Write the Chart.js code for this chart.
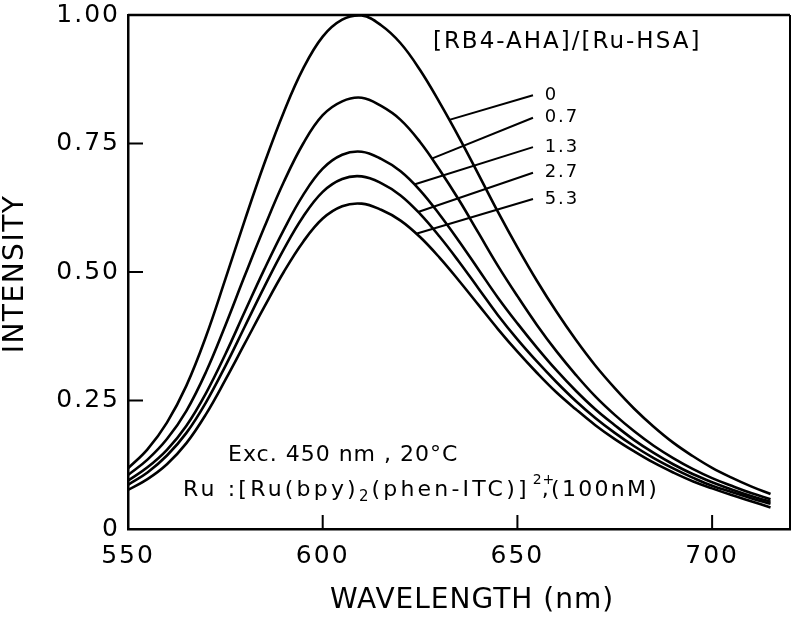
<!DOCTYPE html>
<html>
<head>
<meta charset="utf-8">
<script src="https://cdn.jsdelivr.net/npm/chart.js@4.4.0/dist/chart.umd.min.js"></script>
<style>
  html, body { margin: 0; padding: 0; background: #fff; }
  #wrap { width: 800px; height: 621px; }
</style>
</head>
<body>
<div id="wrap"><canvas id="chart" width="800" height="621"></canvas></div>
<script>
// ===== 数据 =====
const wavelengths = [550, 555, 560, 565, 570, 575, 580, 585, 590, 595, 600, 605, 610, 615,
    620, 625, 630, 635, 640, 645, 650, 655, 660, 665, 670, 675, 680, 685, 690, 695, 700, 705, 710, 715];

const intensity0 = [0.118, 0.155, 0.207, 0.279, 0.374, 0.486, 0.601, 0.711, 0.811, 0.896, 0.958, 0.991, 0.999, 0.980,
    0.945, 0.893, 0.830, 0.762, 0.690, 0.617, 0.548, 0.483, 0.423, 0.368, 0.318, 0.274, 0.234, 0.199, 0.168, 0.142, 0.119, 0.100, 0.083, 0.068];
const intensity07 = [0.105, 0.135, 0.175, 0.230, 0.305, 0.396, 0.493, 0.587, 0.675, 0.750, 0.805, 0.832, 0.839, 0.823,
    0.796, 0.753, 0.699, 0.640, 0.576, 0.512, 0.453, 0.397, 0.346, 0.300, 0.258, 0.222, 0.190, 0.162, 0.138, 0.117, 0.099, 0.084, 0.070, 0.058];
const intensity13 = [0.094, 0.120, 0.154, 0.201, 0.264, 0.340, 0.423, 0.505, 0.582, 0.650, 0.701, 0.728, 0.734, 0.720,
    0.696, 0.659, 0.612, 0.560, 0.505, 0.450, 0.400, 0.353, 0.309, 0.269, 0.233, 0.202, 0.173, 0.148, 0.126, 0.107, 0.091, 0.077, 0.064, 0.053];
const intensity27 = [0.086, 0.110, 0.143, 0.187, 0.246, 0.317, 0.394, 0.471, 0.544, 0.608, 0.656, 0.681, 0.686, 0.673,
    0.649, 0.613, 0.569, 0.520, 0.468, 0.416, 0.369, 0.326, 0.286, 0.249, 0.216, 0.187, 0.161, 0.138, 0.118, 0.100, 0.084, 0.072, 0.060, 0.049];
const intensity53 = [0.076, 0.097, 0.126, 0.167, 0.223, 0.290, 0.361, 0.432, 0.500, 0.559, 0.604, 0.628, 0.633, 0.621,
    0.600, 0.568, 0.528, 0.483, 0.436, 0.389, 0.345, 0.304, 0.266, 0.233, 0.202, 0.175, 0.151, 0.129, 0.110, 0.093, 0.079, 0.066, 0.054, 0.042];

const seriesLabels = ['0', '0.7', '1.3', '2.7', '5.3'];
const seriesValues = [intensity0, intensity07, intensity13, intensity27, intensity53];

const yTickValues = [0, 0.25, 0.5, 0.75, 1];
const yTickLabels = ['0', '0.25', '0.50', '0.75', '1.00'];
const xTickValues = [550, 600, 650, 700];
const xTickLabels = ['550', '600', '650', '700'];

// 引线：曲线上的起点波长，标签端点（数据坐标）
const leaderStartWl = [632.5, 628, 623.5, 624.5, 624];
const leaderEndWl = 654;
const leaderEndI = [0.844, 0.800, 0.743, 0.693, 0.642];
const leaderTextWl = 657;

const FONT = '"DejaVu Sans", sans-serif';

function valueAt(series, wl) {
    for (let i = 0; i < wavelengths.length - 1; i++) {
        if (wl >= wavelengths[i] && wl <= wavelengths[i + 1]) {
            const t = (wl - wavelengths[i]) / (wavelengths[i + 1] - wavelengths[i]);
            return series[i] + t * (series[i + 1] - series[i]);
        }
    }
    return series[series.length - 1];
}

function drawSpaced(ctx, text, x, y, font, spacing) {
    ctx.font = font;
    ctx.letterSpacing = spacing + 'px';
    ctx.fillText(text, x, y);
    return ctx.measureText(text).width;
}

const tickSpacing = {
    id: 'tickSpacing',
    beforeDraw(chart) {
        chart.ctx.letterSpacing = '2px';
    }
};

const overlay = {
    id: 'overlay',
    afterDraw(chart) {
        const { ctx, chartArea: a, scales: { x, y } } = chart;
        ctx.save();
        ctx.strokeStyle = '#000';
        ctx.fillStyle = '#000';
        ctx.lineCap = 'butt';

        // 上边框和右边框
        ctx.lineWidth = 2.5;
        ctx.beginPath();
        ctx.moveTo(a.left, a.top);
        ctx.lineTo(a.right, a.top);
        ctx.stroke();
        ctx.lineWidth = 2;
        ctx.beginPath();
        ctx.moveTo(a.right, a.top);
        ctx.lineTo(a.right, a.bottom);
        ctx.stroke();

        // 向内的刻度
        ctx.lineWidth = 2;
        ctx.beginPath();
        yTickValues.forEach(v => {
            const py = y.getPixelForValue(v);
            ctx.moveTo(a.left, py);
            ctx.lineTo(a.left + 15, py);
        });
        xTickValues.forEach(v => {
            if (v === x.min) return;
            const px = x.getPixelForValue(v);
            ctx.moveTo(px, a.bottom);
            ctx.lineTo(px, a.bottom - 14);
        });
        ctx.stroke();

        // 引线和标签
        ctx.lineWidth = 2;
        ctx.textBaseline = 'middle';
        ctx.textAlign = 'left';
        seriesLabels.forEach((lab, i) => {
            const sx = x.getPixelForValue(leaderStartWl[i]);
            const sy = y.getPixelForValue(valueAt(seriesValues[i], leaderStartWl[i]));
            const ex = x.getPixelForValue(leaderEndWl);
            const ey = y.getPixelForValue(leaderEndI[i]);
            ctx.beginPath();
            ctx.moveTo(sx, sy);
            ctx.lineTo(ex, ey);
            ctx.stroke();
            drawSpaced(ctx, lab, x.getPixelForValue(leaderTextWl), ey, '18px ' + FONT, 2);
        });

        // 图例标题
        drawSpaced(ctx, '[RB4-AHA]/[Ru-HSA]', x.getPixelForValue(628.3), y.getPixelForValue(0.947), '23px ' + FONT, 2);

        // 条件说明
        drawSpaced(ctx, 'Exc. 450 nm , 20°C', x.getPixelForValue(575.7), y.getPixelForValue(0.144), '22px ' + FONT, 1);

        let px = x.getPixelForValue(564.1);
        const py = y.getPixelForValue(0.076);
        px += drawSpaced(ctx, 'Ru :[Ru(bpy)', px, py, '22px ' + FONT, 3.2);
        px += drawSpaced(ctx, '2', px, py + 7, '15px ' + FONT, 1);
        px += drawSpaced(ctx, '(phen-ITC)]', px + 2, py, '22px ' + FONT, 3.2) + 2;
        drawSpaced(ctx, '2+', px + 3, py - 10, '14px ' + FONT, 1);
        drawSpaced(ctx, ',(100nM)', px + 12, py, '22px ' + FONT, 2.3);

        // 坐标轴标题
        ctx.textAlign = 'center';
        drawSpaced(ctx, 'WAVELENGTH (nm)', (a.left + a.right) / 2 + 13, 601, '28px ' + FONT, 1);
        ctx.save();
        ctx.translate(16, (a.top + a.bottom) / 2 + 2);
        ctx.rotate(-Math.PI / 2);
        drawSpaced(ctx, 'INTENSITY', 0, 0, '28px ' + FONT, 1.5);
        ctx.restore();

        ctx.restore();
    }
};

const datasets = seriesLabels.map((lab, i) => ({
    label: lab,
    data: wavelengths.map((w, j) => ({ x: w, y: seriesValues[i][j] })),
    borderColor: '#000',
    borderWidth: 2.6,
    pointRadius: 0,
    fill: false,
    tension: 0.4
}));

const chart = new Chart(document.getElementById('chart').getContext('2d'), {
    type: 'line',
    data: { datasets: datasets },
    plugins: [tickSpacing, overlay],
    options: {
        responsive: false,
        animation: false,
        layout: { padding: { left: 0, top: 15, right: 10, bottom: 0 } },
        plugins: {
            legend: { display: false },
            tooltip: { enabled: false }
        },
        scales: {
            x: {
                type: 'linear',
                min: 550,
                max: 720,
                afterBuildTicks: axis => { axis.ticks = xTickValues.map(v => ({ value: v })); },
                afterFit: axis => { axis.height = 92; axis.paddingLeft = 0; axis.paddingRight = 0; },
                grid: { display: false, drawTicks: false },
                border: { display: true, color: '#000', width: 2.5 },
                ticks: {
                    color: '#000',
                    padding: 12,
                    maxRotation: 0,
                    font: { family: FONT, size: 25 },
                    callback: (v, i) => xTickLabels[i]
                }
            },
            y: {
                type: 'linear',
                min: 0,
                max: 1,
                afterBuildTicks: axis => { axis.ticks = yTickValues.map(v => ({ value: v })); },
                afterFit: axis => { axis.width = 128; axis.paddingTop = 0; axis.paddingBottom = 0; },
                grid: { display: false, drawTicks: false },
                border: { display: true, color: '#000', width: 2.5 },
                ticks: {
                    color: '#000',
                    padding: 8,
                    font: { family: FONT, size: 25 },
                    callback: (v, i) => yTickLabels[i]
                }
            }
        }
    }
});
</script>
</body>
</html>
